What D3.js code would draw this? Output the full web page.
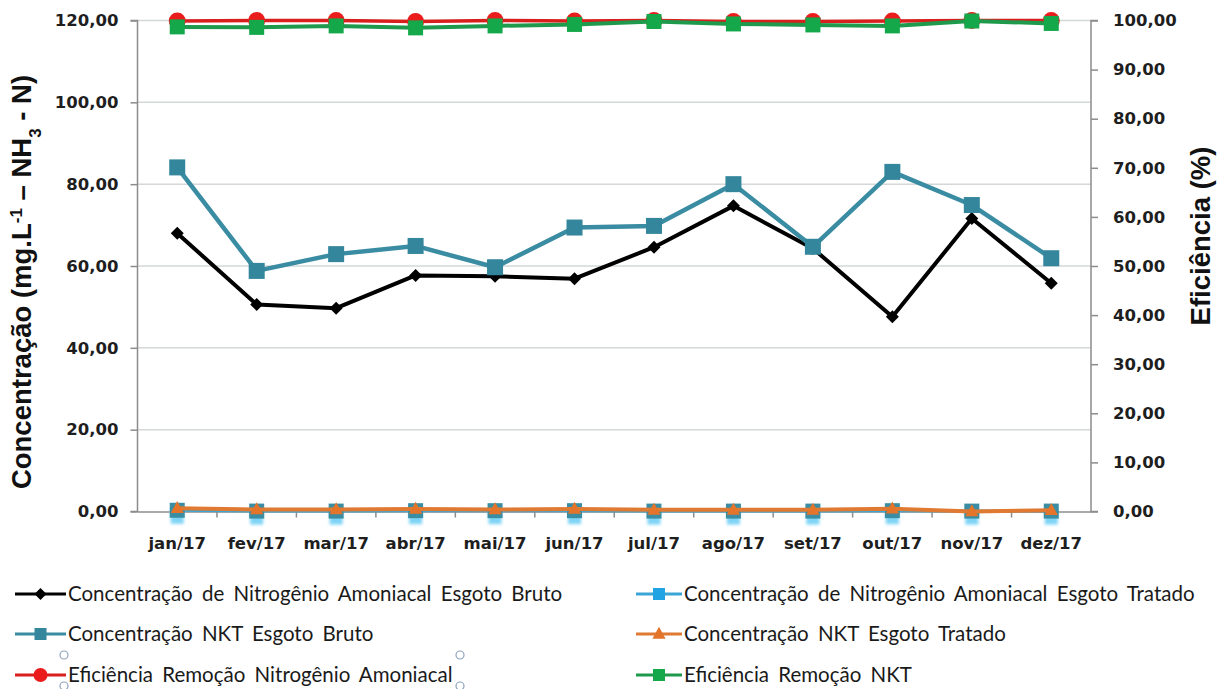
<!DOCTYPE html>
<html>
<head>
<meta charset="utf-8">
<script src="https://cdn.jsdelivr.net/npm/d3@7"></script>
<style>
  html, body { margin: 0; padding: 0; background: #ffffff; }
  svg { display: block; }
</style>
</head>
<body>
<svg id="chart" width="1220" height="689"></svg>
<script>
// Monthly categories
const months = ["jan/17", "fev/17", "mar/17", "abr/17", "mai/17", "jun/17",
                "jul/17", "ago/17", "set/17", "out/17", "nov/17", "dez/17"];

// Concentrations (mg/L) – left axis
const nh3Bruto   = [68.0, 50.6, 49.7, 57.7, 57.5, 56.9, 64.6, 74.7, 64.3, 47.6, 71.6, 55.8];
const nh3Tratado = [0.3, 0.1, 0.1, 0.2, 0.2, 0.2, 0.1, 0.1, 0.1, 0.2, 0.1, 0.1];
const nktBruto   = [84.1, 58.8, 62.9, 64.9, 59.7, 69.4, 69.8, 80.0, 64.7, 83.0, 74.9, 61.9];
const nktTratado = [0.8, 0.5, 0.5, 0.6, 0.5, 0.6, 0.4, 0.4, 0.4, 0.7, 0.0, 0.3];

// Removal efficiencies (%) – right axis
const efNh3 = [99.9, 100.0, 100.0, 99.8, 100.0, 99.9, 100.0, 99.8, 99.8, 99.9, 100.0, 100.0];
const efNkt = [98.7, 98.6, 98.9, 98.5, 98.9, 99.2, 99.8, 99.3, 99.1, 98.9, 99.9, 99.4];

// Axis ticks
const leftTicks  = [0, 20, 40, 60, 80, 100, 120];
const rightTicks = [0, 10, 20, 30, 40, 50, 60, 70, 80, 90, 100];

// Legend entries
const legendLabels = [
  "Concentração de Nitrogênio Amoniacal Esgoto Bruto",
  "Concentração de Nitrogênio Amoniacal Esgoto Tratado",
  "Concentração NKT Esgoto Bruto",
  "Concentração NKT Esgoto Tratado",
  "Eficiência Remoção Nitrogênio Amoniacal",
  "Eficiência Remoção NKT"
];

const ptBR = d3.formatLocale({ decimal: ",", thousands: ".", grouping: [3], currency: ["R$", ""] });
const fmt = ptBR.format(".2f");

const svg = d3.select("#chart");
const plot = { left: 137.5, right: 1091, top: 20.5, bottom: 511.5 };

const x = d3.scaleBand().domain(months).range([plot.left, plot.right]);
const yL = d3.scaleLinear().domain([0, 120]).range([plot.bottom, plot.top]);
const yR = d3.scaleLinear().domain([0, 100]).range([plot.bottom, plot.top]);
const cx = m => x(m) + x.bandwidth() / 2;

const defs = svg.append("defs");
const glow = defs.append("filter").attr("id", "glow")
  .attr("x", "-50%").attr("y", "-50%").attr("width", "200%").attr("height", "200%");
glow.append("feGaussianBlur").attr("stdDeviation", 1.6);

const tickFont = "'DejaVu Sans', Verdana, sans-serif";
const axisColor = "#8c8c8c";

// Horizontal gridlines
svg.append("g")
  .selectAll("line")
  .data(leftTicks.filter(d => d > 0))
  .join("line")
  .attr("x1", plot.left).attr("x2", plot.right)
  .attr("y1", d => yL(d)).attr("y2", d => yL(d))
  .attr("stroke", "#d4d8d8").attr("stroke-width", 1.5);

// Left axis
const gL = svg.append("g").attr("transform", `translate(${plot.left},0)`)
  .call(d3.axisLeft(yL).tickValues(leftTicks).tickFormat(fmt).tickSize(7).tickPadding(12));
// Right axis
const gR = svg.append("g").attr("transform", `translate(${plot.right},0)`)
  .call(d3.axisRight(yR).tickValues(rightTicks).tickFormat(fmt).tickSize(7).tickPadding(15));
// Bottom axis: ticks on category boundaries
const boundaries = months.map(m => x(m)).concat([plot.right]);
const gB = svg.append("g").attr("transform", `translate(0,${plot.bottom})`)
  .call(d3.axisBottom(x).tickSize(0).tickPadding(26));
gB.selectAll(".bnd").data(boundaries.slice(1, -1)).join("line")
  .attr("class", "bnd")
  .attr("x1", d => d).attr("x2", d => d).attr("y1", 0).attr("y2", 6)
  .attr("stroke", axisColor).attr("stroke-width", 1.5);

[gL, gR, gB].forEach(g => {
  g.select(".domain").attr("stroke", axisColor).attr("stroke-width", 1.5);
  g.selectAll(".tick line").attr("stroke", axisColor).attr("stroke-width", 1.5);
  g.selectAll("text")
    .attr("font-family", tickFont).attr("font-weight", "bold")
    .attr("font-size", 16.5).attr("fill", "#1e1e1e");
});
gL.select(".domain").attr("d", `M-7,${plot.top}H0V${plot.bottom}H-7`);
gR.select(".domain").attr("d", `M7,${plot.top}H0V${plot.bottom}H7`);

// Axis titles
const titleFont = "'Liberation Sans', Arial, sans-serif";
const lt = svg.append("text")
  .attr("transform", "translate(31,282) rotate(-90)")
  .attr("text-anchor", "middle")
  .attr("font-family", titleFont).attr("font-size", 27.5).attr("font-weight", "bold")
  .attr("fill", "#111");
lt.append("tspan").text("Concentração (mg.L");
lt.append("tspan").attr("baseline-shift", "super").attr("font-size", 17).text("-1");
lt.append("tspan").text(" – NH");
lt.append("tspan").attr("baseline-shift", "sub").attr("font-size", 17).text("3");
lt.append("tspan").text(" - N)");

svg.append("text")
  .attr("transform", "translate(1210,236) rotate(-90)")
  .attr("text-anchor", "middle")
  .attr("font-family", titleFont).attr("font-size", 27.5).attr("font-weight", "bold")
  .attr("fill", "#111")
  .text("Eficiência (%)");

// Series definitions
const series = [
  { label: legendLabels[0], values: nh3Bruto,   y: yL, color: "#000000", width: 4,   marker: "diamond",  size: 13, mcolor: "#000000" },
  { label: legendLabels[1], values: nh3Tratado, y: yL, color: "#3ba6d6", width: 3,   marker: "glowsq",   size: 15, mcolor: "#3a8da3" },
  { label: legendLabels[2], values: nktBruto,   y: yL, color: "#3a8ca2", width: 4.5, marker: "square",   size: 16, mcolor: "#34869c" },
  { label: legendLabels[3], values: nktTratado, y: yL, color: "#e07a32", width: 4,   marker: "triangle", size: 12, mcolor: "#e3742a" },
  { label: legendLabels[4], values: efNh3,      y: yR, color: "#d91e1e", width: 3.5, marker: "circle",   size: 8.5, mcolor: "#ea1c1c" },
  { label: legendLabels[5], values: efNkt,      y: yR, color: "#1f9a4c", width: 4,   marker: "square",   size: 15, mcolor: "#14a84a" }
];

function drawMarker(g, type, px, py, size, color, legendMode) {
  if (type === "diamond") {
    const h = size / 2;
    g.append("path").attr("d", `M${px},${py - h}L${px + h},${py}L${px},${py + h}L${px - h},${py}Z`)
      .attr("fill", color);
  } else if (type === "square") {
    g.append("rect").attr("x", px - size / 2).attr("y", py - size / 2)
      .attr("width", size).attr("height", size).attr("fill", color);
  } else if (type === "glowsq") {
    if (legendMode) {
      g.append("rect").attr("x", px - size / 2).attr("y", py - size / 2)
        .attr("width", size).attr("height", size).attr("fill", "#1fa3e2");
    } else {
      g.append("rect").attr("x", px - size / 2 + 1).attr("y", py - size / 2 + 6)
        .attr("width", size - 2).attr("height", size).attr("fill", "#7fd4f6")
        .attr("filter", "url(#glow)");
      g.append("rect").attr("x", px - size / 2).attr("y", py - size / 2)
        .attr("width", size).attr("height", size).attr("fill", color);
    }
  } else if (type === "triangle") {
    const h = size;
    g.append("path")
      .attr("d", `M${px},${py - h * 0.6}L${px + h * 0.55},${py + h * 0.4}L${px - h * 0.55},${py + h * 0.4}Z`)
      .attr("fill", color);
  } else if (type === "circle") {
    g.append("circle").attr("cx", px).attr("cy", py).attr("r", size).attr("fill", color);
  }
}

// Lines and markers
series.forEach(s => {
  const g = svg.append("g");
  const line = d3.line().x((d, i) => cx(months[i])).y(d => s.y(d));
  g.append("path").attr("d", line(s.values))
    .attr("fill", "none").attr("stroke", s.color).attr("stroke-width", s.width)
    .attr("stroke-linejoin", "round");
  s.values.forEach((v, i) => drawMarker(g, s.marker, cx(months[i]), s.y(v), s.size, s.mcolor, false));
});

// Legend: two columns, three rows
const legendRows = [594, 634, 675];
const legendCols = [{ x0: 15, x1: 66, text: 68 }, { x0: 636, x1: 682, text: 684 }];
series.forEach((s, i) => {
  const col = legendCols[i % 2];
  const row = legendRows[Math.floor(i / 2)];
  const g = svg.append("g");
  g.append("line").attr("x1", col.x0).attr("x2", col.x1).attr("y1", row).attr("y2", row)
    .attr("stroke", s.color).attr("stroke-width", 3);
  const mx = (col.x0 + col.x1) / 2;
  const msize = s.marker === "circle" ? 7 : 12;
  drawMarker(g, s.marker, mx, row, msize, s.marker === "glowsq" ? "#1fa3e2" : s.mcolor, true);
  g.append("text").attr("x", col.text).attr("y", row).attr("dy", "0.35em")
    .attr("font-family", "Lato, 'Liberation Sans', sans-serif").attr("font-size", 20.5)
    .attr("word-spacing", 4)
    .attr("fill", "#1a1a1a").text(s.label);
});

// Selection handles around the active legend entry
const handles = [[64, 655], [64, 686], [460, 655], [460, 686]];
svg.append("g").selectAll("circle").data(handles).join("circle")
  .attr("cx", d => d[0]).attr("cy", d => d[1]).attr("r", 4)
  .attr("fill", "#ffffff").attr("stroke", "#8fa3bd").attr("stroke-width", 1.2);
</script>
</body>
</html>
